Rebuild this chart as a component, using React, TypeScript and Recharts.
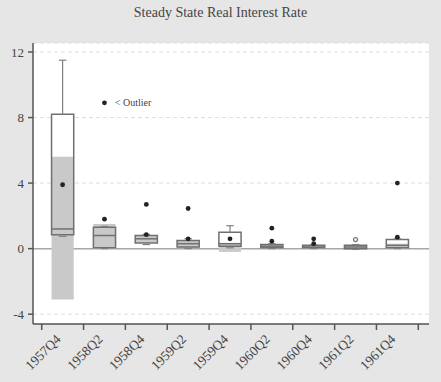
import {
  ComposedChart,
  XAxis,
  YAxis,
  CartesianGrid,
  ReferenceArea,
  ReferenceLine,
  ReferenceDot,
  Scatter,
} from 'recharts';

const categories = ['1957Q4', '1958Q2', '1958Q4', '1959Q2', '1959Q4', '1960Q2', '1960Q4', '1961Q2', '1961Q4'];

// box (quartiles) and median
const q1 = [0.85, 0.05, 0.35, 0.1, 0.15, 0.05, 0.05, 0.0, 0.05];
const q3 = [8.2, 1.3, 0.8, 0.5, 1.0, 0.25, 0.2, 0.2, 0.55];
const median = [1.2, 0.8, 0.6, 0.3, 0.3, 0.15, 0.1, 0.1, 0.2];
// whisker ends
const whiskerHigh = [11.5, 1.36, 0.87, 0.6, 1.4, 0.3, 0.25, 0.25, 0.6];
const whiskerLow = [0.75, 0.0, 0.25, 0.0, 0.05, 0.0, 0.0, -0.05, 0.0];
// shaded band
const bandLow = [-3.1, 0.0, 0.35, 0.05, -0.2, 0.0, 0.0, -0.05, 0.0];
const bandHigh = [5.6, 1.5, 0.8, 0.5, 0.35, 0.25, 0.2, 0.2, 0.3];

// dots per category
const dotCat = [0, 1, 2, 2, 3, 3, 4, 5, 5, 6, 6, 8, 8];
const dotVal = [3.9, 1.8, 2.7, 0.85, 2.45, 0.6, 0.6, 1.25, 0.45, 0.6, 0.3, 4.0, 0.7];
const openCat = [7];
const openVal = [0.55];

const outlierNote = { cat: 1, value: 8.9, text: '< Outlier' };

const yTicks = [-4, 0, 4, 8, 12];

const HALF = 0.265;
const CAP = 0.09;
const FONT = '"Liberation Serif", "DejaVu Serif", serif';

const boundaries = categories.map((_, i) => i - 0.5).concat([categories.length - 0.5]);
const xTicks = [...boundaries, ...categories.map((_, i) => i)].sort((a, b) => a - b);

const dots = dotCat.map((c, i) => ({ x: c, y: dotVal[i] }));
const openDots = openCat.map((c, i) => ({ x: c, y: openVal[i] }));

function XTick(props: any) {
  const { x, y, payload } = props;
  const v = payload.value;
  if (Number.isInteger(v)) {
    const tx = x - 1;
    const ty = y + 16;
    return (
      <text
        x={tx}
        y={ty}
        transform={`rotate(-45 ${tx} ${ty})`}
        textAnchor="end"
        fontFamily={FONT}
        fontSize={13.5}
        fill="#444"
      >
        {categories[v]}
      </text>
    );
  }
  return <line x1={x} y1={y} x2={x} y2={y + 6} stroke="#555" strokeWidth={1.5} />;
}

export default function App() {
  return (
    <div
      style={{
        position: 'absolute',
        left: 0,
        top: 0,
        width: 441,
        height: 382,
        background: '#e6e6e6',
      }}
    >
      <div
        style={{
          position: 'absolute',
          top: 5,
          left: 0,
          width: 441,
          textAlign: 'center',
          fontFamily: FONT,
          fontSize: 14,
          color: '#444',
        }}
      >
        Steady State Real Interest Rate
      </div>
      <ComposedChart
        width={441}
        height={382}
        margin={{ top: 43, right: 12, left: 0, bottom: 0 }}
      >
        <CartesianGrid
          horizontal
          vertical={false}
          fill="#fff"
          stroke="#dedede"
          strokeDasharray="4 3"
        />
        <CartesianGrid
          horizontalValues={[0]}
          vertical={false}
          stroke="#a8a8a8"
          strokeWidth={1.5}
        />
        <XAxis
          type="number"
          dataKey="x"
          domain={[-0.708, 8.756]}
          allowDataOverflow
          ticks={xTicks}
          interval={0}
          tickLine={false}
          tickSize={0}
          tickMargin={0}
          tick={<XTick />}
          height={58}
          stroke="#555"
          strokeWidth={1.5}
        />
        <YAxis
          type="number"
          dataKey="y"
          domain={[-4.6, 12.55]}
          allowDataOverflow
          ticks={yTicks}
          width={33}
          tickSize={5}
          tickMargin={4}
          stroke="#555"
          strokeWidth={1.5}
          tick={{ fontSize: 13, fill: '#444', fontFamily: FONT }}
        />
        {categories.map((_, i) => (
          <ReferenceArea
            key={`w${i}`}
            x1={i - HALF}
            x2={i + HALF}
            y1={q1[i]}
            y2={q3[i]}
            fill="#fff"
            fillOpacity={1}
            stroke="none"
          />
        ))}
        {categories.map((_, i) => (
          <ReferenceArea
            key={`b${i}`}
            x1={i - HALF}
            x2={i + HALF}
            y1={bandLow[i]}
            y2={bandHigh[i]}
            fill="#c9c9c9"
            fillOpacity={1}
            stroke="none"
          />
        ))}
        {categories.map((_, i) => (
          <ReferenceArea
            key={`o${i}`}
            x1={i - HALF}
            x2={i + HALF}
            y1={q1[i]}
            y2={q3[i]}
            fill="none"
            fillOpacity={0}
            stroke="#707070"
            strokeWidth={1.5}
          />
        ))}
        {categories.map((_, i) => (
          <ReferenceLine
            key={`m${i}`}
            segment={[
              { x: i - HALF, y: median[i] },
              { x: i + HALF, y: median[i] },
            ]}
            stroke="#707070"
            strokeWidth={1.5}
          />
        ))}
        {categories.map((_, i) => (
          <ReferenceLine
            key={`wh${i}`}
            segment={[
              { x: i, y: q3[i] },
              { x: i, y: whiskerHigh[i] },
            ]}
            stroke="#808080"
            strokeWidth={1.2}
          />
        ))}
        {categories.map((_, i) => (
          <ReferenceLine
            key={`ch${i}`}
            segment={[
              { x: i - CAP, y: whiskerHigh[i] },
              { x: i + CAP, y: whiskerHigh[i] },
            ]}
            stroke="#808080"
            strokeWidth={1.2}
          />
        ))}
        {categories.map((_, i) => (
          <ReferenceLine
            key={`cl${i}`}
            segment={[
              { x: i - CAP, y: whiskerLow[i] },
              { x: i + CAP, y: whiskerLow[i] },
            ]}
            stroke="#808080"
            strokeWidth={1.2}
          />
        ))}
        <Scatter
          data={dots}
          fill="#222"
          isAnimationActive={false}
          shape={(p: any) => <circle cx={p.cx} cy={p.cy} r={2.4} fill="#222" />}
        />
        <Scatter
          data={openDots}
          isAnimationActive={false}
          shape={(p: any) => (
            <circle cx={p.cx} cy={p.cy} r={2} fill="#fff" stroke="#777" strokeWidth={1.2} />
          )}
        />
        <ReferenceDot
          x={outlierNote.cat}
          y={outlierNote.value}
          r={2.4}
          fill="#222"
          stroke="none"
          label={{
            value: outlierNote.text,
            position: 'right',
            offset: 8,
            fontSize: 10,
            fill: '#444',
            fontFamily: FONT,
          }}
        />
      </ComposedChart>
    </div>
  );
}
